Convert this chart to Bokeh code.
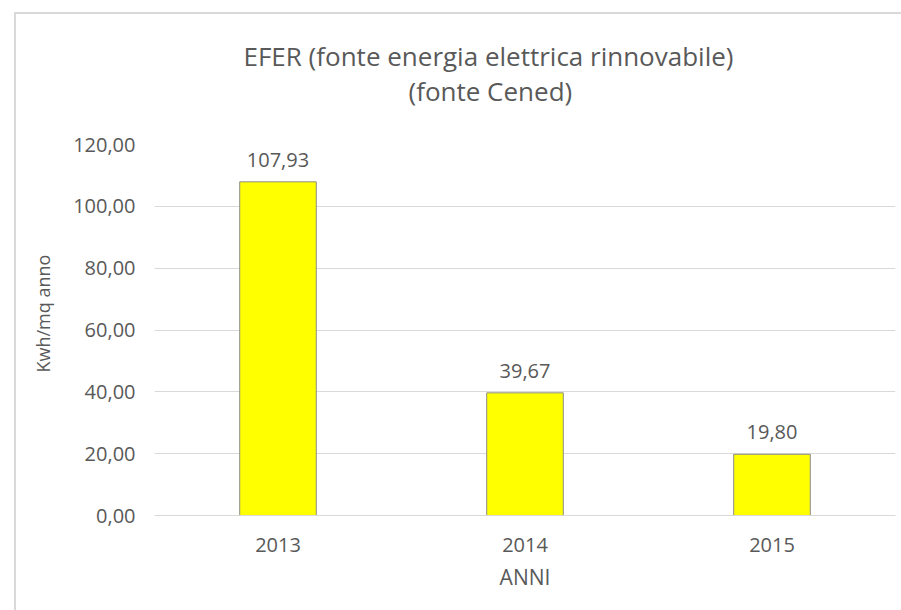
import math
from bokeh.plotting import figure
from bokeh.models import (ColumnDataSource, LabelSet, Title, FactorRange, Range1d,
                          FixedTicker, CustomJSTickFormatter)
from bokeh.core.properties import value
from bokeh.embed import file_html
from bokeh.resources import INLINE

years = ["2013", "2014", "2015"]
values = [107.93, 39.67, 19.80]
value_labels = ["107,93", "39,67", "19,80"]
y_ticks = [0, 20, 40, 60, 80, 100, 120]

title_line1 = "EFER (fonte energia elettrica rinnovabile)"
title_line2 = "(fonte Cened)"
x_title = "ANNI"
y_title = "Kwh/mq anno"

FONT = "Open Sans"
GREY = "#595959"
GRID = "#d9d9d9"

W, H = 901, 610

src = ColumnDataSource(dict(x=years, top=values, lab=value_labels))

p = figure(
    width=W, height=H,
    x_range=FactorRange(*years, range_padding=0),
    y_range=Range1d(0, 120),
    output_backend="svg", toolbar_location=None,
    min_border_left=154, min_border_right=6,
    min_border_top=144, min_border_bottom=95,
)
p.border_fill_alpha = 0
p.background_fill_color = "white"
p.outline_line_color = None
p.styles = {
    "background": "linear-gradient(#d9d9d9,#d9d9d9) 14px 12px / 2px 100% no-repeat, "
                  "linear-gradient(#d9d9d9,#d9d9d9) 14px 12px / 100% 2px no-repeat, white"
}

p.vbar(x="x", top="top", width=0.31, source=src,
       fill_color="#ffff00", line_color="#8c8c8c", line_width=1)

p.add_layout(LabelSet(x="x", y="top", text="lab", source=src,
                      text_align="center", text_baseline="alphabetic", y_offset=15,
                      text_font=value(FONT), text_font_size="20px", text_color=GREY))

# axes
p.yaxis.ticker = FixedTicker(ticks=y_ticks)
p.yaxis.formatter = CustomJSTickFormatter(code="return tick.toFixed(2).replace('.', ',');")
p.yaxis.axis_line_color = None
p.yaxis.major_tick_line_color = None
p.yaxis.minor_tick_line_color = None
p.yaxis.major_tick_out = 0
p.yaxis.major_label_standoff = 19
p.yaxis.major_label_text_font = FONT
p.yaxis.major_label_text_font_size = "20px"
p.yaxis.major_label_text_color = GREY

p.xaxis.axis_line_color = GRID
p.xaxis.major_tick_line_color = None
p.xaxis.minor_tick_line_color = None
p.xaxis.major_tick_out = 0
p.xaxis.major_label_standoff = 22
p.xaxis.major_label_text_font = FONT
p.xaxis.major_label_text_font_size = "20px"
p.xaxis.major_label_text_color = GREY
p.xaxis.axis_label = x_title
p.xaxis.axis_label_standoff = 8
p.xaxis.axis_label_text_font = FONT
p.xaxis.axis_label_text_font_size = "21px"
p.xaxis.axis_label_text_font_style = "normal"
p.xaxis.axis_label_text_color = GREY

p.xgrid.grid_line_color = None
p.ygrid.grid_line_color = GRID
p.ygrid.grid_line_width = 1

# two-line chart title (first added sits closest to the plot)
p.add_layout(Title(text=title_line2, align="left", offset=254, standoff=71,
                   text_font=FONT, text_font_size="26px", text_font_style="normal",
                   text_color=GREY), "above")
p.add_layout(Title(text=title_line1, align="left", offset=89, standoff=-77,
                   text_font=FONT, text_font_size="26px", text_font_style="normal",
                   text_color=GREY), "above")

# vertical axis title
p.add_layout(Title(text=y_title, align="left", offset=143, standoff=31,
                   text_font=FONT, text_font_size="18px", text_font_style="normal",
                   text_color=GREY), "left")

open("out.html", "w").write(file_html(p, INLINE))
